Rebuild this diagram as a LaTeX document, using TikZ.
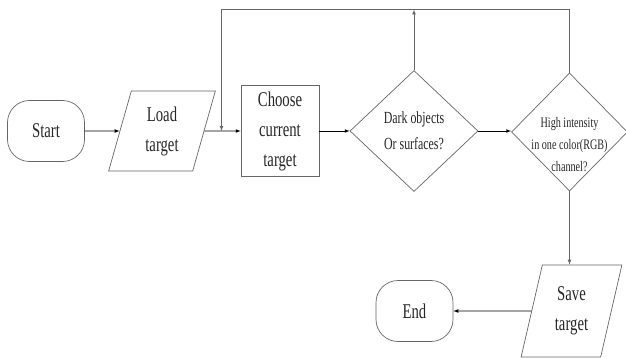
\documentclass[tikz,border=0pt]{standalone}
\usepackage{fontspec}
\setmainfont{Liberation Serif}[FakeStretch=0.7]
\usetikzlibrary{shapes.geometric}

\begin{document}
\begin{tikzpicture}[x=1pt,y=-1pt]
		\tikzset{box/.style={draw=black!60,line width=0.7pt,text=black!85,align=center,inner sep=0pt,font=\fontsize{21}{30}\selectfont},
			term/.style={box,rounded corners=22pt,minimum width=77pt,minimum height=61pt},
			io/.style={box,trapezium,trapezium left angle=76,trapezium right angle=104,trapezium stretches=true},
			test/.style={box,diamond},
			flow/.style={-latex,line width=0.7pt}}
		\useasboundingbox (0,0) rectangle (626,358);
		\node (S) at (46,131) [term] {Start};
		\node (L) at (162,131) [io,minimum width=107pt,minimum height=80pt] {Load\\target};
		\node (C) at (280,131) [box,minimum width=78pt,minimum height=91pt] {Choose\\current\\target};
		\node (D) at (414,131) [test,minimum width=128pt,minimum height=121pt,font=\fontsize{17}{26}\selectfont] {Dark objects\\Or surfaces?};
		\node (H) at (569.5,132) [test,minimum width=116pt,minimum height=118pt] {};
		\node (Ht) at ([yshift=-13pt]H.center) [font=\fontsize{14.5}{22}\selectfont,text=black!85,align=center] {High intensity\\in one color(RGB)\\channel?};
		\node (V) at (571.5,311) [io,minimum width=101pt,minimum height=92pt] {Save\\target};
		\node (E) at (414.5,311) [term] {End};
		\coordinate (T) at (221.5,9.5);
		\coordinate (M) at (221.5,131);
		\draw[flow] (S) -- (L);
		\draw[flow] (L) -- (C);
		\draw[flow] (C) -- (D);
		\draw[flow] (D) -- (D -| H.west);
		\draw[flow,black!60] (H.north) |- (T) -- (M);
		\draw[flow,black!60] (D.north) -- (D.north |- T);
		\draw[flow,black!60] (H.south) -- (H.south |- V.north);
		\draw[flow] (V) -- (E);
	\end{tikzpicture}
\end{document}
